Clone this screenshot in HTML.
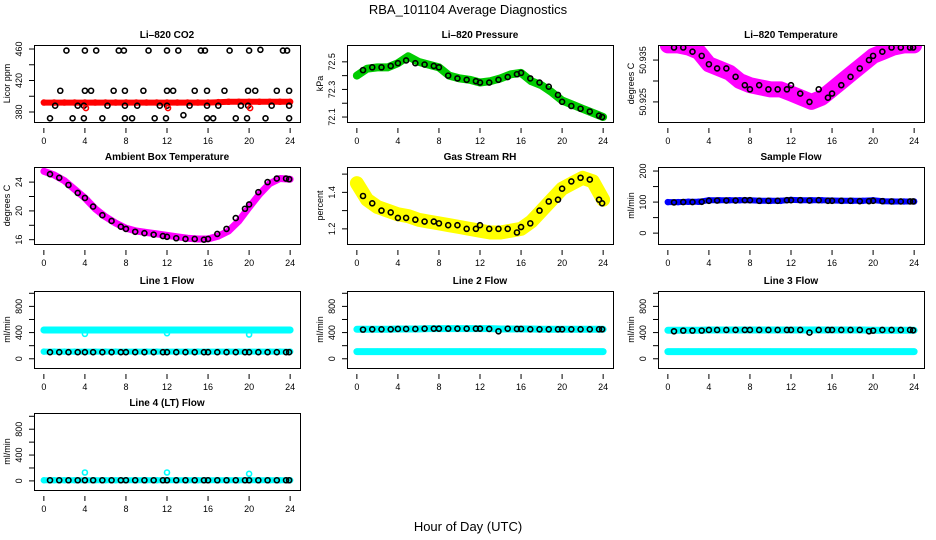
<!DOCTYPE html>
<html><head><meta charset="utf-8"><style>
html,body{margin:0;padding:0;background:#fff;}
svg{display:block;font-family:"Liberation Sans",Arial,sans-serif;}
</style></head><body>
<svg id="chart" width="936" height="540" viewBox="0 0 936 540" xmlns="http://www.w3.org/2000/svg">
<text x="468" y="14" text-anchor="middle" font-size="13">RBA_101104  Average Diagnostics</text>
<text x="468" y="531" text-anchor="middle" font-size="13">Hour of Day (UTC)</text>
</svg>
<script>
// ---- data ----
const hourly = [0,1,2,3,4,5,6,7,8,9,10,11,12,13,14,15,16,17,18,19,20,21,22,23,24];
const blackHours = [0.6,1.5,2.4,3.3,4.0,4.8,5.7,6.6,7.5,8.0,8.9,9.8,10.7,11.6,12.0,12.9,13.8,14.7,15.6,16.0,16.9,17.8,18.7,19.6,20.0,20.9,21.8,22.7,23.6,23.9];
const xTicks = [0,4,8,12,16,20,24];

const co2Red = [392,392,392,392,392,392,392,392,392,392,392,392,392,392,392,392,392,392.5,393,393,393,393,393,393,393];
const co2BlackHours = [0.6,1.1,1.6,2.2,2.8,3.3,3.9,3.9,4,4,4.6,5.1,5.7,6.2,6.8,7.3,7.8,7.9,7.9,7.9,8.6,9.1,9.7,10.2,10.8,11.3,11.9,12,12,12,12.6,13.1,13.6,14.2,14.7,15.3,15.7,15.9,15.9,15.9,16.5,17,17.6,18.1,18.7,19.2,19.8,19.9,19.9,20,20.6,21.1,21.6,22.2,22.7,23.3,23.7,23.9,23.9,23.9];
const co2Black = [372,388,407,458,372,388,372,388,407,458,407,458,372,388,407,458,458,372,388,407,372,388,407,458,372,388,372,388,407,458,407,458,376,388,407,458,458,372,388,407,372,388,407,458,372,388,372,388,407,458,407,459,372,388,407,458,458,372,388,407];
const co2OutHours = [4.1,12.1,20.1];
const co2Out = [385,385,385];

const pressGreen = [72.40,72.45,72.46,72.46,72.49,72.54,72.50,72.48,72.46,72.40,72.38,72.37,72.35,72.36,72.38,72.41,72.42,72.36,72.33,72.28,72.22,72.19,72.16,72.13,72.10];
const pressBlack = [72.44,72.46,72.46,72.47,72.49,72.51,72.49,72.48,72.47,72.46,72.40,72.38,72.37,72.36,72.35,72.35,72.37,72.39,72.41,72.42,72.38,72.35,72.32,72.26,72.21,72.18,72.16,72.14,72.11,72.10];

const tempMagenta = [50.9385,50.9385,50.938,50.937,50.934,50.933,50.932,50.930,50.929,50.9285,50.928,50.928,50.927,50.926,50.925,50.926,50.928,50.930,50.932,50.934,50.936,50.937,50.938,50.9385,50.9385];
const tempBlack = [50.938,50.938,50.937,50.936,50.934,50.933,50.933,50.931,50.929,50.928,50.929,50.928,50.928,50.928,50.929,50.927,50.925,50.928,50.926,50.927,50.929,50.931,50.933,50.935,50.936,50.937,50.938,50.938,50.938,50.938];

const ambMagenta = [25.5,25,24.2,23,21.8,20.3,19.2,18.3,17.6,17.2,17,16.8,16.6,16.4,16.2,16.1,16.1,16.5,17.2,18.6,20.5,22.3,23.8,24.5,24.4];
const ambBlack = [25.1,24.6,23.6,22.5,21.8,20.6,19.4,18.6,17.8,17.5,17.1,16.9,16.7,16.5,16.4,16.2,16.1,16.1,16,16.1,16.8,17.5,19,20.3,20.9,22.6,24,24.5,24.5,24.4];

const rhYellow = [1.45,1.36,1.32,1.30,1.28,1.27,1.25,1.24,1.23,1.22,1.21,1.20,1.19,1.18,1.18,1.19,1.20,1.24,1.30,1.36,1.42,1.45,1.48,1.46,1.36];
const rhBlack = [1.38,1.34,1.30,1.29,1.26,1.26,1.25,1.24,1.24,1.23,1.22,1.22,1.20,1.20,1.22,1.20,1.20,1.20,1.18,1.21,1.23,1.30,1.35,1.36,1.42,1.46,1.48,1.47,1.36,1.34];

const flowBlue = [100,100,101,101,106,106,106,106,106,104,104,104,107,106,106,106,105,104,104,104,106,103,102,102,102];
const flowBlack = [99,100,100,101,104,105,105,105,106,106,104,104,104,106,106,106,105,106,104,104,104,104,103,103,104,103,102,102,102,102];

const line1Upper = [440,440,440,440,440,440,440,440,440,440,440,440,440,440,440,440,440,440,440,440,440,440,440,440,440];
const line1Lower = [110,110,110,110,110,110,110,110,110,110,110,110,110,110,110,110,110,110,110,110,110,110,110,110,110];
const line1Black = [100,100,100,100,100,100,100,100,100,100,100,100,100,100,100,100,100,100,100,100,100,100,100,100,100,100,100,100,100,100];
const line1OutHours = [4,12,20];
const line1Out = [380,390,370];

const line2Upper = [450,450,450,450,455,455,455,460,460,460,460,460,460,460,455,455,455,455,450,450,450,450,450,450,450];
const line2Lower = [110,110,110,110,110,110,110,110,110,110,110,110,110,110,110,110,110,110,110,110,110,110,110,110,110];
const line2Black = [445,450,450,450,455,455,455,460,460,460,460,460,460,460,460,455,420,460,455,455,450,450,450,450,450,450,450,450,450,450];

const line3Upper = [435,435,435,435,440,440,440,440,440,440,440,440,440,440,440,440,440,440,440,440,435,435,435,435,435];
const line3Lower = [110,110,110,110,110,110,110,110,110,110,110,110,110,110,110,110,110,110,110,110,110,110,110,110,110];
const line3Black = [420,430,430,430,440,440,440,440,440,440,440,440,440,440,440,440,400,440,440,440,440,440,440,420,430,440,440,440,440,435];

const line4Cyan = [10,10,10,10,10,10,10,10,10,10,10,10,10,10,10,10,10,10,10,10,10,10,10,10,10];
const line4Black = [10,10,10,10,10,10,10,10,10,10,10,10,10,10,10,10,10,10,10,10,10,10,10,10,10,10,10,10,10,10];
const line4OutHours = [4,12,20];
const line4Out = [130,130,110];

// ---- layout ----
const NS = "http://www.w3.org/2000/svg";
const svg = document.getElementById('chart');
const colLeft = [34, 347, 658];
const rowTop = [45, 167, 291, 413];
const W = 266, H = 77;

function mk(tag, attrs, parent) {
  const e = document.createElementNS(NS, tag);
  for (const k in attrs) e.setAttribute(k, attrs[k]);
  (parent || svg).appendChild(e);
  return e;
}

function panel(cfg) {
  const L = colLeft[cfg.col], T = rowTop[cfg.row];
  const g = mk('g', {});
  
  
  const xs = h => L + (h + 0.96) / 25.92 * W;
  const ys = v => T + H - (v - cfg.ylo) / (cfg.yhi - cfg.ylo) * H;
  const clip = 'clip-' + cfg.name;
  const cp = mk('clipPath', {id: clip}, g);
  mk('rect', {x: L, y: T, width: W, height: H}, cp);
  const marks = mk('g', {'clip-path': 'url(#' + clip + ')'}, g);
  
  
  // colored bands
  (cfg.bands || []).forEach(b => {
    const pts = b.vals.map((v, i) => xs(b.hours[i]).toFixed(1) + ',' + ys(v).toFixed(1)).join(' ');
    const pl = mk('polyline', {points: pts, fill: 'none', stroke: b.color, 'stroke-width': b.width, 'stroke-linejoin': 'round', 'stroke-linecap': 'round'}, marks);
    
    
    b.vals.forEach((v, i) => {
      const c = mk('circle', {cx: xs(b.hours[i]), cy: ys(v), r: 2.5, fill: 'none', stroke: b.color, 'stroke-width': 1.5}, marks);
      
      
    });
  });
  (cfg.points || []).forEach(p => {
    p.vals.forEach((v, i) => {
      const c = mk('circle', {cx: xs(p.hours[i]), cy: ys(v), r: 2.5, fill: 'none', stroke: p.color, 'stroke-width': 1.6}, marks);
      
      
    });
  });
  const box = mk('rect', {x: L + 0.5, y: T + 0.5, width: W, height: H, fill: 'none', stroke: '#000', 'stroke-width': 1}, g);
  
  
  const t = mk('text', {x: L + W / 2, y: T - 7, 'text-anchor': 'middle', 'font-size': 10, 'font-weight': 'bold'}, g);
  t.textContent = cfg.title;
  
  
  xTicks.forEach(v => {
    const x = xs(v);
    mk('line', {x1: x, x2: x, y1: T + H + 6, y2: T + H + 11, stroke: '#000'}, g);
    const tx = mk('text', {x: x, y: T + H + 22, 'text-anchor': 'middle', 'font-size': 9}, g);
    tx.textContent = v;
    
    
  });
  cfg.yticks.forEach(v => {
    const y = ys(v);
    mk('line', {x1: L - 5, x2: L, y1: y, y2: y, stroke: '#000'}, g);
  });
  cfg.ylabels.forEach(v => {
    const y = ys(v);
    const tx = mk('text', {x: 0, y: 0, 'text-anchor': 'middle', 'font-size': 9, transform: 'translate(' + (L - 12) + ',' + y + ') rotate(-90)'}, g);
    tx.textContent = v;
    
    
  });
  const yt = mk('text', {x: 0, y: 0, 'text-anchor': 'middle', 'font-size': 9, transform: 'translate(' + (L - 24) + ',' + (T + H / 2) + ') rotate(-90)'}, g);
  yt.textContent = cfg.ytitle;
  
  
}

const flowTicks = [0,200,400,600,800,1000];
const flowLabels = [0,400,800];

panel({name:'co2-panel', col:0, row:0, title:'Li\u2013820 CO2', ytitle:'Licor ppm', ylo:367.3, yhi:465.1,
  yticks:[380,400,420,440,460], ylabels:[380,420,460],
  bands:[{hours:hourly, vals:co2Red, color:'#ff0000', width:6}],
  points:[{hours:co2BlackHours, vals:co2Black, color:'#000'},{hours:co2OutHours, vals:co2Out, color:'#ff0000'}]});
panel({name:'pressure-panel', col:1, row:0, title:'Li\u2013820 Pressure', ytitle:'kPa', ylo:72.064, yhi:72.622,
  yticks:[72.1,72.2,72.3,72.4,72.5], ylabels:['72.1','72.3','72.5'],
  bands:[{hours:hourly, vals:pressGreen, color:'#00cc00', width:8}],
  points:[{hours:blackHours, vals:pressBlack, color:'#000'}]});
panel({name:'temperature-panel', col:2, row:0, title:'Li\u2013820 Temperature', ytitle:'degrees C', ylo:50.9202, yhi:50.9386,
  yticks:[50.925,50.930,50.935], ylabels:['50.925','50.935'],
  bands:[{hours:hourly, vals:tempMagenta, color:'#ff00ff', width:16}],
  points:[{hours:blackHours, vals:tempBlack, color:'#000'}]});
panel({name:'ambient-panel', col:0, row:1, title:'Ambient Box Temperature', ytitle:'degrees C', ylo:15.4, yhi:26.1,
  yticks:[16,18,20,22,24], ylabels:[16,20,24],
  bands:[{hours:hourly, vals:ambMagenta, color:'#ff00ff', width:7}],
  points:[{hours:blackHours, vals:ambBlack, color:'#000'}]});
panel({name:'rh-panel', col:1, row:1, title:'Gas Stream RH', ytitle:'percent', ylo:1.117, yhi:1.539,
  yticks:[1.2,1.3,1.4,1.5], ylabels:['1.2','1.4'],
  bands:[{hours:hourly, vals:rhYellow, color:'#ffff00', width:14}],
  points:[{hours:blackHours, vals:rhBlack, color:'#000'}]});
panel({name:'sample-flow-panel', col:2, row:1, title:'Sample Flow', ytitle:'ml/min', ylo:-35, yhi:213,
  yticks:[0,50,100,150,200], ylabels:[0,100,200],
  bands:[{hours:hourly, vals:flowBlue, color:'#0000ff', width:6}],
  points:[{hours:blackHours, vals:flowBlack, color:'#000'}]});
panel({name:'line1-flow-panel', col:0, row:2, title:'Line 1 Flow', ytitle:'ml/min', ylo:-141, yhi:1035,
  yticks:flowTicks, ylabels:flowLabels,
  bands:[{hours:hourly, vals:line1Upper, color:'#00ffff', width:7},{hours:hourly, vals:line1Lower, color:'#00ffff', width:6}],
  points:[{hours:blackHours, vals:line1Black, color:'#000'},{hours:line1OutHours, vals:line1Out, color:'#00ffff'}]});
panel({name:'line2-flow-panel', col:1, row:2, title:'Line 2 Flow', ytitle:'ml/min', ylo:-141, yhi:1035,
  yticks:flowTicks, ylabels:flowLabels,
  bands:[{hours:hourly, vals:line2Upper, color:'#00ffff', width:7},{hours:hourly, vals:line2Lower, color:'#00ffff', width:7}],
  points:[{hours:blackHours, vals:line2Black, color:'#000'}]});
panel({name:'line3-flow-panel', col:2, row:2, title:'Line 3 Flow', ytitle:'ml/min', ylo:-141, yhi:1035,
  yticks:flowTicks, ylabels:flowLabels,
  bands:[{hours:hourly, vals:line3Upper, color:'#00ffff', width:7},{hours:hourly, vals:line3Lower, color:'#00ffff', width:7}],
  points:[{hours:blackHours, vals:line3Black, color:'#000'}]});
panel({name:'line4-flow-panel', col:0, row:3, title:'Line 4 (LT) Flow', ytitle:'ml/min', ylo:-141, yhi:1051,
  yticks:flowTicks, ylabels:flowLabels,
  bands:[{hours:hourly, vals:line4Cyan, color:'#00ffff', width:6}],
  points:[{hours:blackHours, vals:line4Black, color:'#000'},{hours:line4OutHours, vals:line4Out, color:'#00ffff'}]});
</script>
</body></html>
